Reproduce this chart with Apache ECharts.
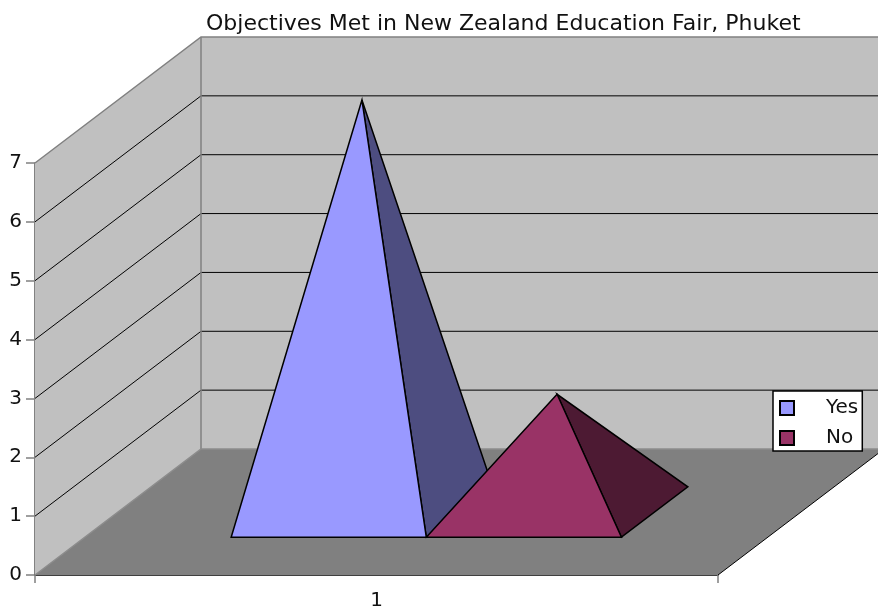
<!DOCTYPE html>
<html>
<head>
<meta charset="utf-8">
<script src="https://cdn.jsdelivr.net/npm/echarts@6/dist/echarts.min.js"></script>
<style>html,body{margin:0;padding:0;background:#fff}#main{width:878px;height:609px}</style>
</head>
<body>
<div id="main"></div>
<script>
var categories = ['1'];
var yesValues = [7];
var noValues = [2];
var yTicks = [0, 1, 2, 3, 4, 5, 6, 7];

// depth of the 3d box, in pixels
var depthX = 166, depthY = -126;
var fontName = '"DejaVu Sans"';

var myChart = echarts.init(document.getElementById('main'));

function pts(api, list) {
    // list of [value, xOffset, depth]
    return list.map(function (p) {
        var c = api.coord([0, p[0]]);
        return [c[0] + p[1] + p[2] * depthX, c[1] + p[2] * depthY];
    });
}

function line(api, list, color, width) {
    return { type: 'polyline', shape: { points: pts(api, list) },
        style: { fill: null, stroke: color, lineWidth: width } };
}

function renderBox(params, api) {
    var band = api.size([1, 0])[0];
    var l = -band / 2, r = band / 2;
    var kids = [];
    kids.push({ type: 'polygon', shape: { points: pts(api, [[7, l, 0], [7, l, 1], [0, l, 1], [0, l, 0]]) },
        style: { fill: '#c0c0c0' } });
    kids.push({ type: 'polygon', shape: { points: pts(api, [[7, l, 1], [7, r, 1], [0, r, 1], [0, l, 1]]) },
        style: { fill: '#c0c0c0' } });
    kids.push({ type: 'polygon', shape: { points: pts(api, [[0, l, 0], [0, r, 0], [0, r, 1], [0, l, 1]]) },
        style: { fill: '#808080' } });
    yTicks.forEach(function (t) {
        if (t === 0 || t === 7) return;
        kids.push(line(api, [[t, l, 0], [t, l, 1], [t, r, 1]], '#000', 1));
    });
    // wall outlines are grey, only the floor's right edge is black
    kids.push(line(api, [[7, l, 0], [7, l, 1], [7, r, 1]], '#808080', 1.5));
    kids.push(line(api, [[7, l, 1], [0, l, 1]], '#808080', 1.5));
    kids.push(line(api, [[0, l, 0], [0, l, 1], [0, r, 1]], '#8c8c8c', 1.5));
    kids.push(line(api, [[0, r, 0], [0, r, 1]], '#000', 1));
    return { type: 'group', children: kids };
}

// bars sit side by side in the band, 75% gap on each outer edge of the pair
function renderPyramid(idx, color, sideColor) {
    return function (params, api) {
        var band = api.size([1, 0])[0];
        var w = band / 3.5;
        var left = -w + idx * w;
        var right = left + w;
        var mid = (left + right) / 2;
        var v = api.value(1);
        var sideP = pts(api, [[v, mid, 0.5], [0, right, 0.3], [0, right, 0.7]]);
        var frontP = pts(api, [[v, mid, 0.5], [0, left, 0.3], [0, right, 0.3]]);
        return { type: 'group', children: [
            { type: 'polygon', shape: { points: sideP }, style: { fill: sideColor, stroke: '#000', lineWidth: 1.5 } },
            { type: 'polygon', shape: { points: frontP }, style: { fill: color, stroke: '#000', lineWidth: 1.5 } }
        ] };
    };
}

var option = {
    backgroundColor: '#fff',
    animation: false,
    title: {
        text: 'Objectives Met in New Zealand Education Fair, Phuket',
        left: 206, top: 13, padding: 0,
        textStyle: { fontFamily: fontName, fontSize: 22, fontWeight: 'normal', color: '#111' }
    },
    legend: {
        left: 773, top: 391, orient: 'vertical', icon: 'rect',
        backgroundColor: '#fff', borderColor: '#000', borderWidth: 1.5, borderRadius: 0,
        padding: [7, 4, 3, 6], itemGap: 10, itemWidth: 14, itemHeight: 14,
        data: ['Yes', 'No'],
        textStyle: { fontFamily: fontName, fontSize: 20, color: '#111', padding: [0, 0, 0, 27] }
    },
    grid: { left: 35, top: 163, width: 683, height: 412, outerBoundsMode: 'none' },
    xAxis: {
        type: 'category', data: categories,
        axisLine: { lineStyle: { color: '#000', width: 1.5 } },
        axisTick: { show: true, alignWithLabel: false, length: 8, lineStyle: { color: '#808080', width: 1.5 } },
        axisLabel: { fontFamily: fontName, fontSize: 20, color: '#111', margin: 16 }
    },
    yAxis: {
        type: 'value', min: 0, max: 7, interval: 1,
        axisLine: { show: true, lineStyle: { color: '#595959', width: 1.5 } },
        axisTick: { show: true, length: 9, lineStyle: { color: '#808080', width: 1.5 } },
        axisLabel: { fontFamily: fontName, fontSize: 20, color: '#111', margin: 13 },
        splitLine: { show: false }
    },
    series: [
        { type: 'custom', name: 'box', clip: false, z: 1, silent: true, renderItem: renderBox, data: [[0, 0]] },
        { type: 'custom', name: 'Yes', clip: false, z: 2, itemStyle: { color: '#9999ff', borderColor: '#000', borderWidth: 1.5 },
          renderItem: renderPyramid(0, '#9999ff', '#4d4d80'),
          data: yesValues.map(function (v, i) { return [i, v]; }) },
        { type: 'custom', name: 'No', clip: false, z: 3, itemStyle: { color: '#993366', borderColor: '#000', borderWidth: 1.5 },
          renderItem: renderPyramid(1, '#993366', '#4d1a33'),
          data: noValues.map(function (v, i) { return [i, v]; }) }
    ]
};
myChart.setOption(option);
</script>
</body>
</html>
